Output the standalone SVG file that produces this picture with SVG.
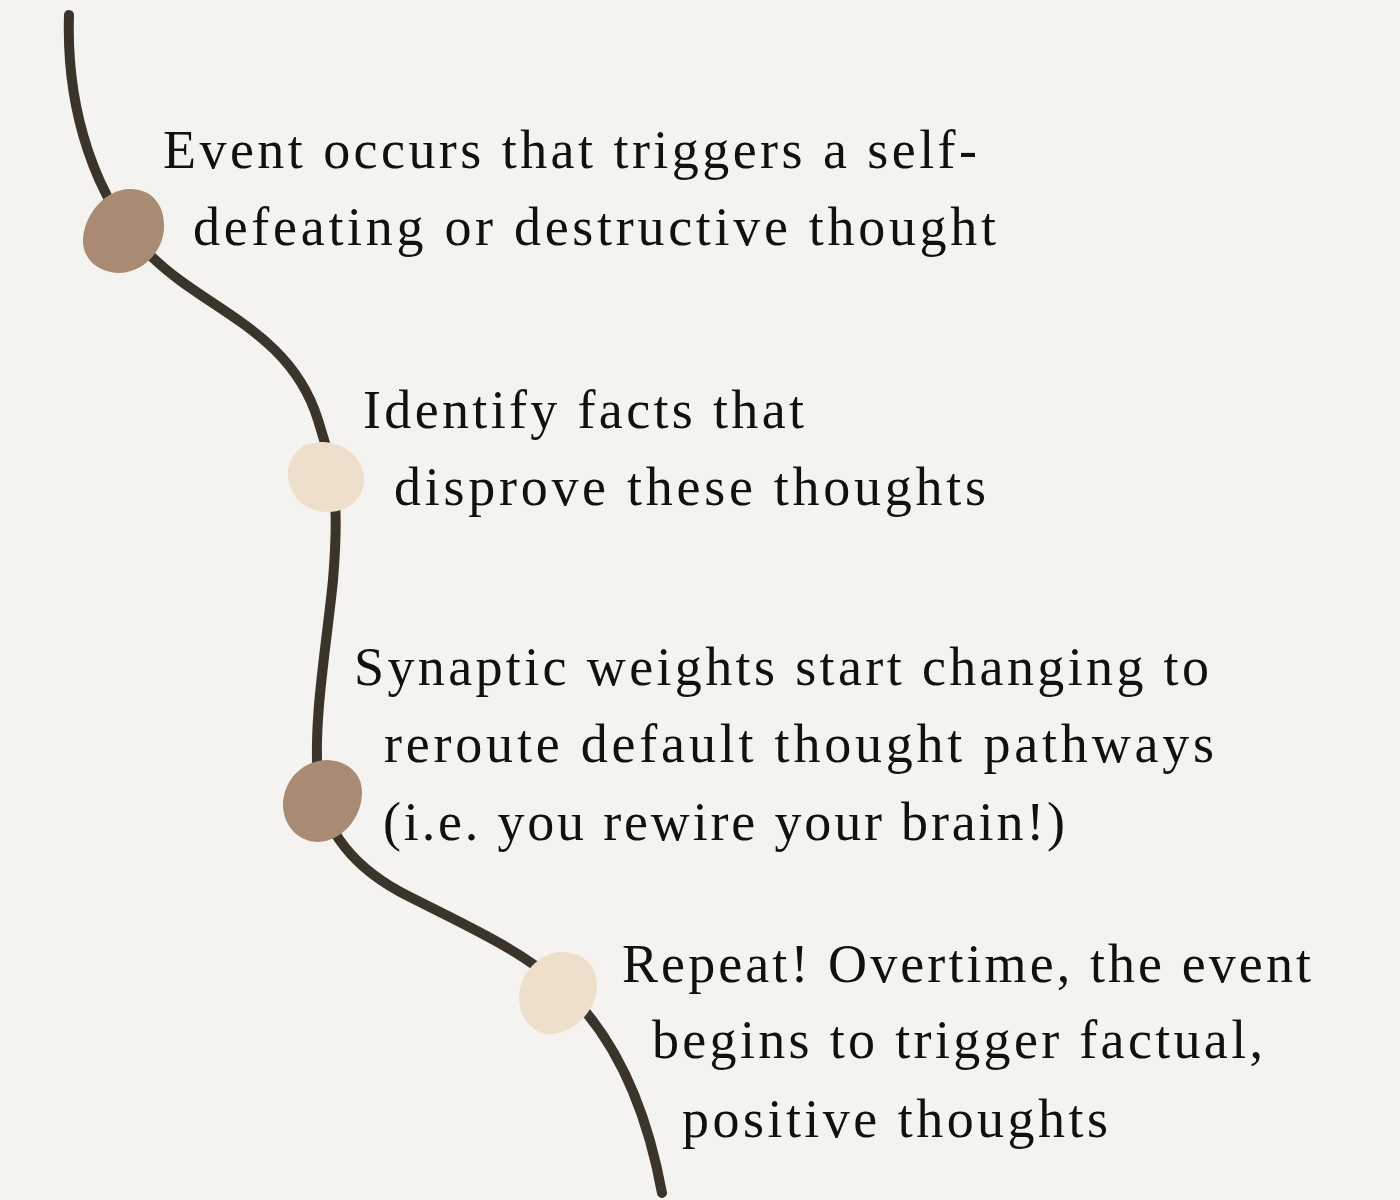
<svg xmlns="http://www.w3.org/2000/svg" width="1400" height="1200" viewBox="0 0 1400 1200">
<style>
.bg{fill:#F4F3F0}
.path{fill:none;stroke:#3B342B;stroke-width:10;stroke-linecap:round}
.dark{fill:#A98B74}
.light{fill:#EDDFCB}
text{font-family:"Liberation Serif","DejaVu Serif",serif;font-size:54px;fill:#111}
</style>
<rect class="bg" width="1400" height="1200"/>
<g id="connectors">
<path class="path" d="M69,15 C66,110 95,200 150,255 C205,310 290,330 318,420 C338,480 338,520 333,580 C326,650 313,720 318,780 C322,830 355,870 410,897 C470,927 520,950 560,985 C610,1030 645,1100 662,1193"/>
</g>
<g id="node1">
<path class="dark" d="M130,189 C152,189 165,205 164,228 C163,252 143,272 120,273 C98,273 82,258 83,240 C84,215 105,189 130,189 Z"/>
<text x="163" y="168" textLength="814" lengthAdjust="spacing">Event occurs that triggers a self-</text>
<text x="193" y="245" textLength="803" lengthAdjust="spacing">defeating or destructive thought</text>
</g>
<g id="node2">
<path class="light" d="M322,442 C347,443 364,460 364,480 C364,498 348,512 328,512 C304,512 288,495 288,474 C288,455 302,442 322,442 Z"/>
<text x="363" y="428" textLength="441" lengthAdjust="spacing">Identify facts that</text>
<text x="394" y="505" textLength="592" lengthAdjust="spacing">disprove these thoughts</text>
</g>
<g id="node3">
<path class="dark" d="M328,760 C348,761 362,774 362,792 C362,818 342,841 318,842 C298,842 283,825 283,805 C283,780 303,760 328,760 Z"/>
<text x="354" y="685" textLength="855" lengthAdjust="spacing">Synaptic weights start changing to</text>
<text x="384" y="762" textLength="830" lengthAdjust="spacing">reroute default thought pathways</text>
<text x="383" y="840" textLength="682" lengthAdjust="spacing">(i.e. you rewire your brain!)</text>
</g>
<g id="node4">
<path class="light" d="M562,952 C583,952 597,966 597,985 C597,1010 575,1033 550,1034 C532,1034 519,1018 519,998 C519,973 540,952 562,952 Z"/>
<text x="622" y="982" textLength="689" lengthAdjust="spacing">Repeat! Overtime, the event</text>
<text x="652" y="1058" textLength="611" lengthAdjust="spacing">begins to trigger factual,</text>
<text x="682" y="1137" textLength="426" lengthAdjust="spacing">positive thoughts</text>
</g>
</svg>
